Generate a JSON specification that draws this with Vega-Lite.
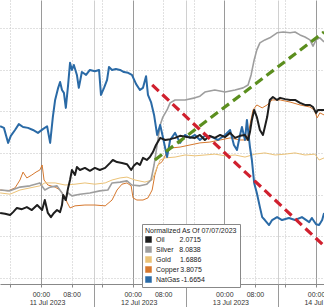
{
  "$schema": "https://vega.github.io/schema/vega-lite/v6.json",
  "width": 324,
  "height": 284,
  "padding": {"left": 0, "top": 0, "right": 0, "bottom": 23},
  "autosize": {"type": "none"},
  "background": "white",
  "config": {"view": {"stroke": null}, "font": "Liberation Sans"},
  "datasets": {
    "series": [
      {"s":"NatGas","h":-10.7,"v":36.4},{"s":"NatGas","h":-9.7,"v":36.0},{"s":"NatGas","h":-8.6,"v":32.4},{"s":"NatGas","h":-7.9,"v":34.1},{"s":"NatGas","h":-6.8,"v":35.5},{"s":"NatGas","h":-5.8,"v":36.9},{"s":"NatGas","h":-4.7,"v":36.2},{"s":"NatGas","h":-3.4,"v":36.0},{"s":"NatGas","h":-2.1,"v":35.5},{"s":"NatGas","h":-0.8,"v":34.8},{"s":"NatGas","h":0.5,"v":35.7},{"s":"NatGas","h":1.6,"v":36.4},{"s":"NatGas","h":2.4,"v":32.4},{"s":"NatGas","h":3.1,"v":38.6},{"s":"NatGas","h":3.7,"v":42.7},{"s":"NatGas","h":4.5,"v":45.6},{"s":"NatGas","h":5.0,"v":47.0},{"s":"NatGas","h":5.5,"v":45.1},{"s":"NatGas","h":6.0,"v":44.4},{"s":"NatGas","h":6.5,"v":40.8},{"s":"NatGas","h":7.1,"v":46.3},{"s":"NatGas","h":7.6,"v":51.6},{"s":"NatGas","h":8.1,"v":49.9},{"s":"NatGas","h":8.6,"v":51.1},{"s":"NatGas","h":9.4,"v":48.7},{"s":"NatGas","h":9.9,"v":45.6},{"s":"NatGas","h":10.7,"v":49.4},{"s":"NatGas","h":11.8,"v":48.7},{"s":"NatGas","h":12.8,"v":49.9},{"s":"NatGas","h":14.1,"v":49.6},{"s":"NatGas","h":15.2,"v":49.9},{"s":"NatGas","h":15.7,"v":43.9},{"s":"NatGas","h":16.5,"v":45.6},{"s":"NatGas","h":17.3,"v":47.5},{"s":"NatGas","h":17.8,"v":50.6},{"s":"NatGas","h":18.6,"v":49.9},{"s":"NatGas","h":19.6,"v":50.1},{"s":"NatGas","h":20.7,"v":49.9},{"s":"NatGas","h":21.7,"v":49.4},{"s":"NatGas","h":22.8,"v":49.2},{"s":"NatGas","h":23.8,"v":48.7},{"s":"NatGas","h":24.9,"v":46.5},{"s":"NatGas","h":25.9,"v":45.1},{"s":"NatGas","h":26.7,"v":45.6},{"s":"NatGas","h":27.5,"v":48.4},{"s":"NatGas","h":28.0,"v":43.9},{"s":"NatGas","h":28.8,"v":42.2},{"s":"NatGas","h":29.6,"v":39.1},{"s":"NatGas","h":30.4,"v":34.3},{"s":"NatGas","h":31.2,"v":36.7},{"s":"NatGas","h":31.9,"v":33.8},{"s":"NatGas","h":33.0,"v":29.0},{"s":"NatGas","h":33.8,"v":33.1},{"s":"NatGas","h":35.1,"v":34.8},{"s":"NatGas","h":36.4,"v":32.4},{"s":"NatGas","h":37.7,"v":34.3},{"s":"NatGas","h":39.0,"v":33.6},{"s":"NatGas","h":40.3,"v":34.3},{"s":"NatGas","h":41.6,"v":33.1},{"s":"NatGas","h":42.9,"v":34.1},{"s":"NatGas","h":44.8,"v":33.8},{"s":"NatGas","h":46.3,"v":33.1},{"s":"NatGas","h":48.2,"v":34.3},{"s":"NatGas","h":49.5,"v":35.5},{"s":"NatGas","h":50.5,"v":31.9},{"s":"NatGas","h":51.3,"v":30.7},{"s":"NatGas","h":52.1,"v":34.3},{"s":"NatGas","h":52.6,"v":36.2},{"s":"NatGas","h":53.4,"v":33.1},{"s":"NatGas","h":53.9,"v":37.9},{"s":"NatGas","h":54.7,"v":31.4},{"s":"NatGas","h":55.2,"v":28.3},{"s":"NatGas","h":55.8,"v":22.8},{"s":"NatGas","h":56.5,"v":20.4},{"s":"NatGas","h":57.3,"v":17.0},{"s":"NatGas","h":57.9,"v":14.6},{"s":"NatGas","h":58.6,"v":13.9},{"s":"NatGas","h":59.7,"v":12.7},{"s":"NatGas","h":60.5,"v":13.9},{"s":"NatGas","h":61.8,"v":14.6},{"s":"NatGas","h":63.1,"v":13.9},{"s":"NatGas","h":64.9,"v":14.4},{"s":"NatGas","h":66.5,"v":13.9},{"s":"NatGas","h":68.3,"v":14.6},{"s":"NatGas","h":70.2,"v":13.4},{"s":"NatGas","h":70.9,"v":14.4},{"s":"NatGas","h":72.0,"v":12.9},{"s":"NatGas","h":72.8,"v":12.7},{"s":"NatGas","h":73.6,"v":13.9},{"s":"NatGas","h":74.1,"v":15.6},

      {"s":"Oil","h":-10.7,"v":15.6},{"s":"Oil","h":-9.4,"v":15.4},{"s":"Oil","h":-8.1,"v":15.1},{"s":"Oil","h":-7.3,"v":15.8},{"s":"Oil","h":-6.3,"v":16.8},{"s":"Oil","h":-5.0,"v":16.5},{"s":"Oil","h":-3.7,"v":17.0},{"s":"Oil","h":-2.4,"v":16.3},{"s":"Oil","h":-1.0,"v":17.5},{"s":"Oil","h":0.3,"v":16.3},{"s":"Oil","h":1.0,"v":18.7},{"s":"Oil","h":1.8,"v":15.6},{"s":"Oil","h":2.6,"v":14.6},{"s":"Oil","h":3.4,"v":15.6},{"s":"Oil","h":4.2,"v":16.3},{"s":"Oil","h":5.0,"v":15.8},{"s":"Oil","h":5.5,"v":17.5},{"s":"Oil","h":5.8,"v":19.9},{"s":"Oil","h":6.5,"v":18.7},{"s":"Oil","h":7.1,"v":21.6},{"s":"Oil","h":7.6,"v":23.5},{"s":"Oil","h":8.1,"v":25.9},{"s":"Oil","h":8.9,"v":24.7},{"s":"Oil","h":9.4,"v":26.6},{"s":"Oil","h":10.2,"v":25.9},{"s":"Oil","h":11.5,"v":26.4},{"s":"Oil","h":12.8,"v":25.7},{"s":"Oil","h":14.1,"v":26.4},{"s":"Oil","h":15.4,"v":25.9},{"s":"Oil","h":16.8,"v":26.4},{"s":"Oil","h":18.1,"v":27.6},{"s":"Oil","h":18.8,"v":28.3},{"s":"Oil","h":19.9,"v":27.8},{"s":"Oil","h":21.2,"v":27.6},{"s":"Oil","h":22.5,"v":27.3},{"s":"Oil","h":23.6,"v":25.9},{"s":"Oil","h":24.3,"v":26.9},{"s":"Oil","h":25.1,"v":27.6},{"s":"Oil","h":25.9,"v":27.1},{"s":"Oil","h":26.7,"v":28.8},{"s":"Oil","h":27.7,"v":28.3},{"s":"Oil","h":28.5,"v":29.0},{"s":"Oil","h":29.3,"v":30.2},{"s":"Oil","h":30.1,"v":31.9},{"s":"Oil","h":31.2,"v":33.6},{"s":"Oil","h":32.5,"v":33.1},{"s":"Oil","h":33.8,"v":33.3},{"s":"Oil","h":35.1,"v":33.6},{"s":"Oil","h":36.4,"v":34.1},{"s":"Oil","h":38.2,"v":33.8},{"s":"Oil","h":40.3,"v":33.6},{"s":"Oil","h":41.6,"v":34.3},{"s":"Oil","h":42.9,"v":33.1},{"s":"Oil","h":44.2,"v":34.1},{"s":"Oil","h":45.5,"v":33.6},{"s":"Oil","h":46.9,"v":34.3},{"s":"Oil","h":48.2,"v":33.8},{"s":"Oil","h":49.5,"v":34.8},{"s":"Oil","h":50.8,"v":33.6},{"s":"Oil","h":52.1,"v":34.1},{"s":"Oil","h":53.4,"v":34.3},{"s":"Oil","h":54.2,"v":33.1},{"s":"Oil","h":54.7,"v":35.0},{"s":"Oil","h":55.2,"v":37.9},{"s":"Oil","h":55.8,"v":40.3},{"s":"Oil","h":56.5,"v":38.6},{"s":"Oil","h":57.3,"v":35.5},{"s":"Oil","h":58.1,"v":34.3},{"s":"Oil","h":58.6,"v":36.2},{"s":"Oil","h":59.2,"v":38.6},{"s":"Oil","h":59.9,"v":42.7},{"s":"Oil","h":60.7,"v":43.4},{"s":"Oil","h":61.8,"v":42.7},{"s":"Oil","h":62.6,"v":43.2},{"s":"Oil","h":63.9,"v":42.9},{"s":"Oil","h":65.2,"v":42.7},{"s":"Oil","h":66.5,"v":42.7},{"s":"Oil","h":67.8,"v":42.0},{"s":"Oil","h":69.1,"v":41.5},{"s":"Oil","h":70.4,"v":41.5},{"s":"Oil","h":71.2,"v":41.0},{"s":"Oil","h":72.0,"v":39.6},{"s":"Oil","h":72.5,"v":40.3},{"s":"Oil","h":73.3,"v":40.3},{"s":"Oil","h":74.1,"v":40.3},

      {"s":"Silver","h":-10.7,"v":21.1},{"s":"Silver","h":-8.1,"v":20.9},{"s":"Silver","h":-5.5,"v":21.8},{"s":"Silver","h":-2.9,"v":22.1},{"s":"Silver","h":-0.3,"v":22.8},{"s":"Silver","h":1.0,"v":21.1},{"s":"Silver","h":2.4,"v":21.8},{"s":"Silver","h":4.2,"v":22.1},{"s":"Silver","h":5.5,"v":20.4},{"s":"Silver","h":6.3,"v":18.7},{"s":"Silver","h":7.1,"v":20.4},{"s":"Silver","h":8.1,"v":19.7},{"s":"Silver","h":10.2,"v":20.1},{"s":"Silver","h":12.8,"v":20.4},{"s":"Silver","h":15.4,"v":20.9},{"s":"Silver","h":17.5,"v":21.1},{"s":"Silver","h":18.6,"v":22.8},{"s":"Silver","h":20.7,"v":23.0},{"s":"Silver","h":22.5,"v":23.3},{"s":"Silver","h":23.8,"v":22.3},{"s":"Silver","h":25.9,"v":22.1},{"s":"Silver","h":27.7,"v":22.5},{"s":"Silver","h":28.8,"v":23.5},{"s":"Silver","h":29.6,"v":27.1},{"s":"Silver","h":30.4,"v":31.9},{"s":"Silver","h":31.2,"v":36.7},{"s":"Silver","h":31.9,"v":38.6},{"s":"Silver","h":33.0,"v":40.3},{"s":"Silver","h":33.8,"v":42.0},{"s":"Silver","h":35.1,"v":42.7},{"s":"Silver","h":37.7,"v":42.7},{"s":"Silver","h":40.3,"v":43.2},{"s":"Silver","h":41.6,"v":43.6},{"s":"Silver","h":42.9,"v":44.6},{"s":"Silver","h":45.5,"v":45.1},{"s":"Silver","h":48.2,"v":44.6},{"s":"Silver","h":50.8,"v":45.1},{"s":"Silver","h":52.9,"v":45.6},{"s":"Silver","h":54.2,"v":46.3},{"s":"Silver","h":55.0,"v":48.7},{"s":"Silver","h":55.8,"v":52.3},{"s":"Silver","h":56.5,"v":54.7},{"s":"Silver","h":57.3,"v":56.4},{"s":"Silver","h":58.6,"v":57.1},{"s":"Silver","h":59.9,"v":57.6},{"s":"Silver","h":61.8,"v":58.8},{"s":"Silver","h":63.4,"v":59.0},{"s":"Silver","h":65.2,"v":58.8},{"s":"Silver","h":66.5,"v":59.0},{"s":"Silver","h":67.8,"v":58.3},{"s":"Silver","h":69.1,"v":57.8},{"s":"Silver","h":70.4,"v":57.1},{"s":"Silver","h":71.2,"v":55.6},{"s":"Silver","h":72.0,"v":57.1},{"s":"Silver","h":73.0,"v":57.6},{"s":"Silver","h":74.1,"v":56.6},

      {"s":"Copper","h":-10.7,"v":21.1},{"s":"Copper","h":-8.6,"v":20.9},{"s":"Copper","h":-6.8,"v":21.6},{"s":"Copper","h":-5.5,"v":23.5},{"s":"Copper","h":-4.7,"v":25.4},{"s":"Copper","h":-3.7,"v":24.0},{"s":"Copper","h":-2.4,"v":24.7},{"s":"Copper","h":-1.3,"v":25.4},{"s":"Copper","h":-0.3,"v":25.9},{"s":"Copper","h":0.3,"v":27.1},{"s":"Copper","h":0.8,"v":23.5},{"s":"Copper","h":1.8,"v":22.3},{"s":"Copper","h":3.7,"v":21.8},{"s":"Copper","h":5.0,"v":21.1},{"s":"Copper","h":6.3,"v":19.4},{"s":"Copper","h":6.8,"v":18.2},{"s":"Copper","h":7.6,"v":16.8},{"s":"Copper","h":8.9,"v":17.3},{"s":"Copper","h":11.5,"v":17.5},{"s":"Copper","h":14.1,"v":17.5},{"s":"Copper","h":16.8,"v":17.3},{"s":"Copper","h":18.6,"v":18.7},{"s":"Copper","h":19.9,"v":21.1},{"s":"Copper","h":21.2,"v":22.5},{"s":"Copper","h":22.5,"v":22.8},{"s":"Copper","h":23.6,"v":22.1},{"s":"Copper","h":24.1,"v":19.2},{"s":"Copper","h":25.1,"v":18.7},{"s":"Copper","h":26.7,"v":18.7},{"s":"Copper","h":28.0,"v":19.2},{"s":"Copper","h":29.1,"v":21.1},{"s":"Copper","h":29.8,"v":24.7},{"s":"Copper","h":30.6,"v":27.1},{"s":"Copper","h":31.7,"v":27.9},{"s":"Copper","h":33.0,"v":30.2},{"s":"Copper","h":34.3,"v":31.2},{"s":"Copper","h":36.4,"v":31.4},{"s":"Copper","h":39.0,"v":31.9},{"s":"Copper","h":41.6,"v":32.4},{"s":"Copper","h":44.2,"v":32.6},{"s":"Copper","h":46.9,"v":33.1},{"s":"Copper","h":49.5,"v":33.6},{"s":"Copper","h":52.1,"v":33.1},{"s":"Copper","h":53.9,"v":33.1},{"s":"Copper","h":54.7,"v":36.7},{"s":"Copper","h":55.5,"v":40.3},{"s":"Copper","h":56.5,"v":41.5},{"s":"Copper","h":57.9,"v":40.8},{"s":"Copper","h":59.2,"v":41.5},{"s":"Copper","h":60.5,"v":42.7},{"s":"Copper","h":62.6,"v":42.7},{"s":"Copper","h":65.2,"v":42.2},{"s":"Copper","h":67.8,"v":41.5},{"s":"Copper","h":70.4,"v":41.0},{"s":"Copper","h":71.5,"v":40.3},{"s":"Copper","h":72.3,"v":38.4},{"s":"Copper","h":73.0,"v":39.6},{"s":"Copper","h":74.1,"v":39.1},

      {"s":"Gold","h":-10.7,"v":20.4},{"s":"Gold","h":-8.1,"v":20.1},{"s":"Gold","h":-5.5,"v":21.1},{"s":"Gold","h":-2.9,"v":21.6},{"s":"Gold","h":-0.3,"v":22.1},{"s":"Gold","h":1.0,"v":22.8},{"s":"Gold","h":3.7,"v":22.8},{"s":"Gold","h":6.3,"v":22.3},{"s":"Gold","h":8.9,"v":22.5},{"s":"Gold","h":11.5,"v":22.8},{"s":"Gold","h":14.1,"v":22.5},{"s":"Gold","h":16.8,"v":22.8},{"s":"Gold","h":18.6,"v":23.5},{"s":"Gold","h":20.7,"v":24.0},{"s":"Gold","h":22.5,"v":24.2},{"s":"Gold","h":24.6,"v":23.5},{"s":"Gold","h":27.2,"v":23.0},{"s":"Gold","h":29.1,"v":23.5},{"s":"Gold","h":30.1,"v":25.9},{"s":"Gold","h":31.2,"v":28.3},{"s":"Gold","h":32.5,"v":28.8},{"s":"Gold","h":35.1,"v":29.0},{"s":"Gold","h":37.7,"v":29.5},{"s":"Gold","h":40.3,"v":29.3},{"s":"Gold","h":42.9,"v":29.5},{"s":"Gold","h":45.5,"v":29.7},{"s":"Gold","h":48.2,"v":29.3},{"s":"Gold","h":50.8,"v":29.5},{"s":"Gold","h":53.4,"v":29.0},{"s":"Gold","h":56.0,"v":29.7},{"s":"Gold","h":58.6,"v":30.0},{"s":"Gold","h":61.3,"v":29.5},{"s":"Gold","h":63.9,"v":29.7},{"s":"Gold","h":66.5,"v":30.0},{"s":"Gold","h":69.1,"v":29.5},{"s":"Gold","h":71.7,"v":29.7},{"s":"Gold","h":72.8,"v":28.3},{"s":"Gold","h":74.1,"v":28.8}
    ],
    "trend": [
      {"t":"down","h":29.1,"v":46.3},{"t":"down","h":74.1,"v":7.7},
      {"t":"up","h":29.8,"v":28.3},{"t":"up","h":74.1,"v":59.0}
    ]
  },
  "resolve": {"axis": {"x": "independent"}},
  "layer": [
    {
      "data": {"name": "series"},
      "transform": [{"filter": "datum.s == 'Gold' || datum.s == 'Copper'"}],
      "mark": {"type": "line", "strokeJoin": "round", "strokeWidth": 1},
      "encoding": {
        "x": {
          "field": "h", "type": "quantitative",
          "scale": {"domain": [-10.73, 74.08], "nice": false, "zero": false},
          "axis": {
            "orient": "bottom",
            "title": null,
            "values": [-8, 0, 8, 14, 16, 24, 32, 38, 40, 48, 56, 62, 64, 72],
            "labelExpr": "(datum.value % 24 == 0) ? '00:00' : (datum.value % 24 == 8) ? '08:00' : ''",
            "grid": true,
            "gridDash": {"condition": {"test": "datum.value % 24 == 0 || datum.value % 24 == 14", "value": []}, "value": [1, 2]},
            "gridColor": {"condition": [{"test": "datum.value % 24 == 0", "value": "#9a9a9a"}, {"test": "datum.value % 24 == 14", "value": "#d0d0d0"}], "value": "#c2c2c2"},
            "tickSize": 3,
            "tickColor": "#888888",
            "domainColor": "#888888",
            "labelFontSize": 7,
            "labelColor": "#333333",
            "labelPadding": 3,
            "labelOverlap": false,
            "labelBound": false,
            "labelFlush": false,
            "labelAlign": "center"
          }
        },
        "y": {
          "field": "v", "type": "quantitative",
          "scale": {"domain": [-1.44, 66.67], "nice": false, "zero": false},
          "axis": {
            "title": null, "labels": false, "ticks": false, "domain": false,
            "values": [0, 10, 20, 30, 40, 50, 60],
            "grid": true, "gridDash": [1, 2], "gridColor": "#c2c2c2"
          }
        },
        "color": {
          "field": "s", "type": "nominal",
          "scale": {"domain": ["Oil", "Silver", "Gold", "Copper", "NatGas"], "range": ["#1e1e1e", "#9e9e9e", "#ebc277", "#d6782e", "#2a6aa6"]},
          "legend": {
            "orient": "none", "legendX": 142, "legendY": 224,
            "title": "Normalized As Of 07/07/2023",
            "titleFontSize": 7, "titleFontWeight": "normal", "titleColor": "#222222", "titlePadding": 2,
            "labelFontSize": 7, "labelColor": "#222222", "labelLimit": 200,
            "symbolType": "square", "symbolSize": 36, "rowPadding": 1,
            "padding": 3, "strokeColor": "#888888", "fillColor": "white",
            "labelExpr": "{'Oil': 'Oil\u00a0\u00a0\u00a0\u00a0\u00a0\u00a0\u00a0\u20092.0715', 'Silver': 'Silver\u00a0\u00a0\u00a08.0838', 'Gold': 'Gold\u00a0\u00a0\u00a0\u00a0\u20091.6886', 'Copper': 'Copper\u20093.8075', 'NatGas': 'NatGas\u2009-1.6654'}[datum.label]",
            "encode": {"symbols": {"update": {"fill": {"scale": "color", "field": "value"}, "stroke": {"value": "#333333"}, "strokeWidth": {"value": 0.5}}}}
          }
        }
      }
    },
    {
      "data": {"name": "series"},
      "transform": [{"filter": "datum.s == 'Silver'"}],
      "mark": {"type": "line", "strokeJoin": "round", "strokeWidth": 1.6},
      "encoding": {
        "x": {"field": "h", "type": "quantitative", "axis": null},
        "y": {"field": "v", "type": "quantitative"},
        "color": {"field": "s", "type": "nominal"}
      }
    },
    {
      "data": {"name": "series"},
      "transform": [{"filter": "datum.s == 'NatGas' || datum.s == 'Oil'"}],
      "mark": {"type": "line", "strokeJoin": "round", "strokeWidth": 2},
      "encoding": {
        "x": {"field": "h", "type": "quantitative", "axis": null},
        "y": {"field": "v", "type": "quantitative"},
        "color": {"field": "s", "type": "nominal"}
      }
    },
    {
      "data": {"name": "trend"},
      "transform": [{"filter": "datum.t == 'down'"}],
      "mark": {"type": "line", "color": "#d0202e", "strokeWidth": 3.2, "strokeDash": [9, 5]},
      "encoding": {
        "x": {
          "field": "h", "type": "quantitative",
          "axis": {
            "orient": "bottom",
            "title": null,
            "values": [0, 14, 24, 38, 48, 62, 72],
            "labelExpr": "datum.value == 0 ? '11 Jul 2023' : datum.value == 24 ? '12 Jul 2023' : datum.value == 48 ? '13 Jul 2023' : datum.value == 72 ? '14 Jul 2023' : ''",
            "grid": false,
            "domain": false,
            "ticks": true,
            "tickSize": 27,
            "tickColor": {"condition": {"test": "datum.value % 24 == 14", "value": "#9a9a9a"}, "value": "transparent"},
            "labelFontSize": 7,
            "labelColor": "#333333",
            "labelPadding": -13,
            "labelOffset": 6,
            "labelOverlap": false,
            "labelBound": false,
            "labelFlush": false,
            "labelAlign": "center"
          }
        },
        "y": {"field": "v", "type": "quantitative"}
      }
    },
    {
      "data": {"name": "trend"},
      "transform": [{"filter": "datum.t == 'up'"}],
      "mark": {"type": "line", "color": "#5b8e1e", "strokeWidth": 3.2, "strokeDash": [9, 5]},
      "encoding": {
        "x": {"field": "h", "type": "quantitative", "axis": null},
        "y": {"field": "v", "type": "quantitative"}
      }
    }
  ]
}
